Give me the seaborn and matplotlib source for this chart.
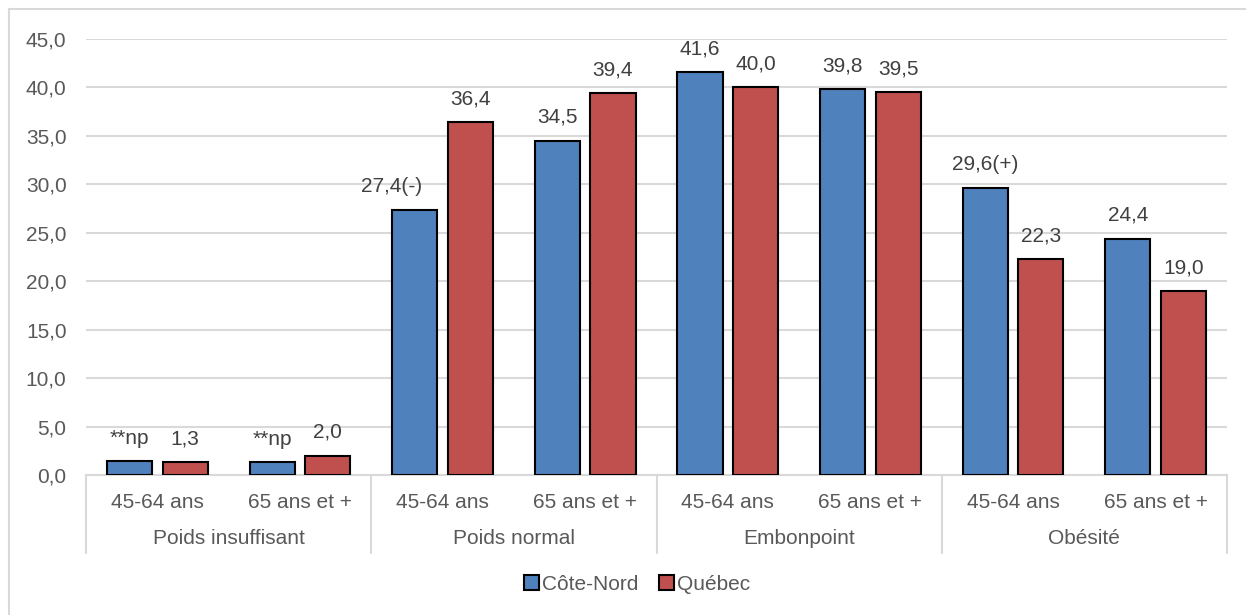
import numpy as np
import pandas as pd
import matplotlib
matplotlib.use("Agg")
import matplotlib.pyplot as plt
import matplotlib.transforms as mtransforms
import seaborn as sns

# --- Donnees ---
categories = ["Poids insuffisant", "Poids normal", "Embonpoint", "Obésité"]
ages = ["45-64 ans", "65 ans et +"]
series = ["Côte-Nord", "Québec"]
cote_nord = [1.4, 1.3, 27.4, 34.5, 41.6, 39.8, 29.6, 24.4]
quebec = [1.3, 2.0, 36.4, 39.4, 40.0, 39.5, 22.3, 19.0]
cote_nord_labels = ["**np", "**np", "27,4(-)", "34,5", "41,6", "39,8", "29,6(+)", "24,4"]
quebec_labels = [f"{v:.1f}".replace(".", ",") for v in quebec]

BLUE = "#4F81BD"
RED = "#C0504D"
GREY_TXT = "#595959"
GREY_LINE = "#D9D9D9"
FS = 15

sns.set_style("white")
plt.rcParams["font.family"] = ["Liberation Sans", "DejaVu Sans"]

# tableau long pour seaborn
keys = [f"{c}|{a}" for c in categories for a in ages]
rows = []
for k, v1, v2 in zip(keys, cote_nord, quebec):
    rows.append({"cle": k, "serie": series[0], "valeur": v1})
    rows.append({"cle": k, "serie": series[1], "valeur": v2})
df = pd.DataFrame(rows)

fig = plt.figure(figsize=(12.46, 6.15), dpi=100)
ax = fig.add_axes([86 / 1246, 1 - 475 / 615, (1227 - 86) / 1246, (475 - 39) / 615])

sns.barplot(data=df, x="cle", y="valeur", hue="serie", order=keys,
            hue_order=series, palette=[BLUE, RED], saturation=1,
            width=0.78, gap=0.19, edgecolor="black", linewidth=1.5,
            ax=ax, zorder=3)

handles, labels = ax.get_legend_handles_labels()
if ax.get_legend() is not None:
    ax.get_legend().remove()

ax.set_xlim(-0.5, len(keys) - 0.5)
ax.set_ylim(0, 45)
yt = np.arange(0, 46, 5)
ax.set_yticks(yt)
ax.set_yticklabels([f"{v:.1f}".replace(".", ",") for v in yt], color=GREY_TXT, fontsize=FS)
ax.yaxis.grid(True, color=GREY_LINE, lw=1.5)
ax.set_axisbelow(True)
ax.tick_params(axis="y", length=0, pad=14)
ax.tick_params(axis="x", length=0, pad=13)
ax.set_xticks(range(len(keys)))
ax.set_xticklabels([a for c in categories for a in ages], color=GREY_TXT, fontsize=FS)
ax.set_xlabel("")
ax.set_ylabel("")
for s in ["top", "right", "left"]:
    ax.spines[s].set_visible(False)
ax.spines["bottom"].set_color(GREY_LINE)
ax.spines["bottom"].set_linewidth(1.5)

# etiquettes de valeurs
all_labels = [cote_nord_labels, quebec_labels]
for cont, labs in zip(ax.containers, all_labels):
    for bar, lab in zip(cont, labs):
        dx = -17 if lab.endswith("(-)") else 0
        ax.annotate(lab, (bar.get_x() + bar.get_width() / 2, bar.get_height()),
                    xytext=(dx, 10), textcoords="offset points",
                    ha="center", va="bottom", color="#404040", fontsize=FS)

# axe des categories (deuxieme niveau) + separateurs
trans = mtransforms.blended_transform_factory(ax.transData, ax.transAxes)
y_sep = -(553 - 475) / 436
for i in range(len(categories) + 1):
    x = i * len(ages) - 0.5
    ax.plot([x, x], [0, y_sep], transform=trans, color=GREY_LINE, lw=1.5, clip_on=False)
for i, c in enumerate(categories):
    x = i * len(ages) + (len(ages) - 1) / 2
    ax.text(x, -(539 - 475) / 436, c, transform=trans, ha="center", va="center",
            color=GREY_TXT, fontsize=FS)

fig.legend(handles, labels, loc="center", bbox_to_anchor=(637 / 1246, 1 - 584 / 615),
           ncol=2, frameon=False, fontsize=FS, labelcolor=GREY_TXT,
           handlelength=0.7, handleheight=0.7, handletextpad=0.15, columnspacing=1.0)

# cadre du graphique (bords gauche et haut visibles)
fig.add_artist(plt.Line2D([9 / 1246, 9 / 1246], [0, 1 - 9 / 615], color=GREY_LINE, lw=1.5))
fig.add_artist(plt.Line2D([9 / 1246, 1], [1 - 9 / 615, 1 - 9 / 615], color=GREY_LINE, lw=1.5))

fig.savefig("out.png", dpi=100)
plt.close(fig)
